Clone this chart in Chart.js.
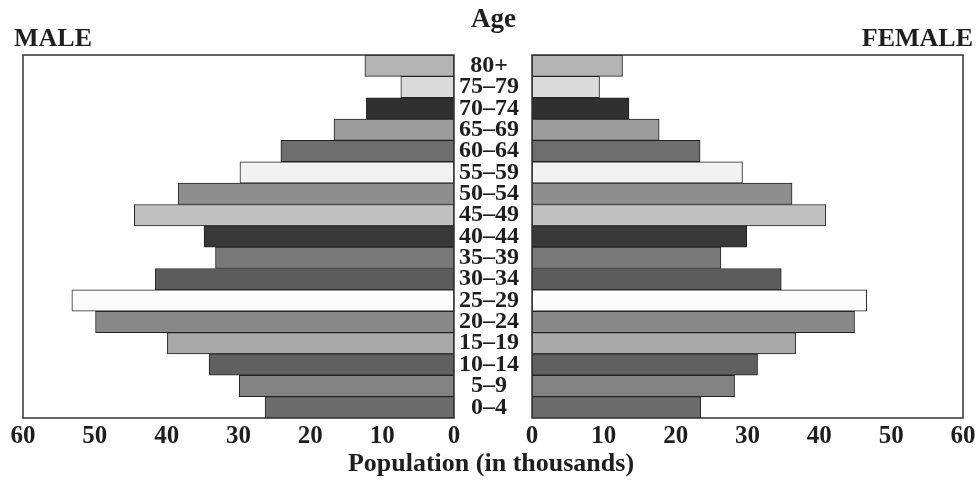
<!DOCTYPE html>
<html>
<head>
<meta charset="utf-8">
<script src="https://cdn.jsdelivr.net/npm/chart.js@4"></script>
<style>
  body { margin: 0; background: #fff; }
  #wrap { position: relative; width: 980px; height: 483px; font-family: 'Liberation Serif', serif; font-weight: bold; color: #1e1e1e; }
  canvas { position: absolute; left: 0; top: 0; }
  .lbl { position: absolute; font-size: 26px; line-height: 1; white-space: nowrap; }
</style>
</head>
<body>
<div id="wrap">
  <canvas id="maleChart" width="980" height="483"></canvas>
  <canvas id="femaleChart" width="980" height="483"></canvas>
  <div class="lbl" style="left:14px;top:25px;">MALE</div>
  <div class="lbl" style="right:7px;top:25px;">FEMALE</div>
  <div class="lbl" style="left:471px;top:5px;font-size:27px;">Age</div>
  <div class="lbl" style="left:0;width:982px;text-align:center;top:450px;">Population (in thousands)</div>
</div>
<script>
// age groups, top to bottom
var ageGroups = ["80+", "75–79", "70–74", "65–69", "60–64", "55–59", "50–54", "45–49", "40–44",
  "35–39", "30–34", "25–29", "20–24", "15–19", "10–14", "5–9", "0–4"];
var male = [12.4, 7.4, 12.2, 16.7, 24.1, 29.8, 38.4, 44.5, 34.8, 33.2, 41.6, 53.2, 49.9, 39.9, 34.1, 29.9, 26.3];
var female = [12.6, 9.4, 13.5, 17.7, 23.4, 29.3, 36.2, 40.9, 29.9, 26.3, 34.7, 46.6, 44.9, 36.7, 31.4, 28.2, 23.5];
var popTicks = [0, 10, 20, 30, 40, 50, 60];

var greys = ['#b4b4b4', '#dadada', '#303030', '#9c9c9c', '#6e6e6e', '#f2f2f2', '#8e8e8e', '#c0c0c0', '#383838',
  '#787878', '#5c5c5c', '#fcfcfc', '#888888', '#a9a9a9', '#606060', '#828282', '#6c6c6c'];

var tickFont = { family: 'Liberation Serif', weight: 'bold', size: 25 };

// draws the frame round each plot area
var boxPlugin = {
  id: 'box',
  afterDraw: function(chart) {
    var a = chart.chartArea, ctx = chart.ctx;
    ctx.save();
    ctx.strokeStyle = '#333';
    ctx.lineWidth = 1.5;
    ctx.strokeRect(a.left, a.top, a.right - a.left, a.bottom - a.top);
    ctx.restore();
  }
};

function makeChart(id, values, left) {
  return new Chart(document.getElementById(id), {
    type: 'bar',
    data: {
      labels: ageGroups,
      datasets: [{
        data: values,
        backgroundColor: greys,
        borderColor: '#222',
        borderWidth: 1,
        borderSkipped: false,
        barPercentage: 1,
        categoryPercentage: 1
      }]
    },
    options: {
      indexAxis: 'y',
      responsive: false,
      animation: false,
      layout: { padding: left ? { top: 55, left: 23, right: 448, bottom: 0 } : { top: 55, left: 532, right: 17, bottom: 0 } },
      plugins: { legend: { display: false }, tooltip: { enabled: false } },
      scales: {
        x: {
          min: 0, max: 60,
          reverse: left,
          afterBuildTicks: function(s) { s.ticks = popTicks.map(function(v) { return { value: v }; }); },
          afterFit: function(s) { s.height = 65; },
          grid: { display: false, drawTicks: false },
          border: { display: false },
          ticks: { color: '#1e1e1e', font: tickFont, padding: 4, maxRotation: 0 }
        },
        y: {
          display: left,
          position: 'right',
          afterFit: function(s) { if (left) s.width = 78; },
          grid: { display: false, drawTicks: false },
          border: { display: false },
          ticks: {
            color: '#1e1e1e', autoSkip: false, crossAlign: 'center', padding: 5,
            font: { family: 'Liberation Serif', weight: 'bold', size: 24, lineHeight: 1 }
          }
        }
      }
    },
    plugins: [boxPlugin]
  });
}

makeChart('maleChart', male, true);
makeChart('femaleChart', female, false);
</script>
</body>
</html>
